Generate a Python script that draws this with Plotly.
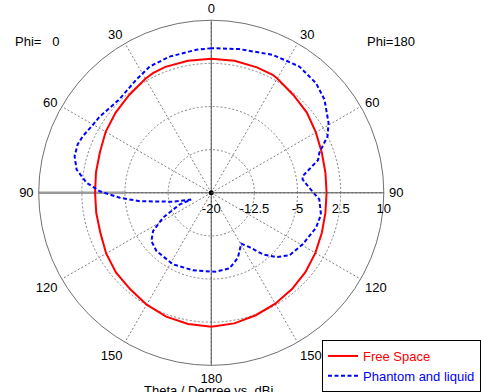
import plotly.graph_objects as go

# Far-field cut: Theta 0..180 on the Phi=0 half (left) and the Phi=180 half (right), gain in dBi
fs_theta_phi0 = [0, 10, 20, 26, 30, 40, 50, 60, 70, 80, 90, 100, 110, 120, 130, 140, 150, 160, 170, 180]
fs_gain_phi0 = [3.3, 3.3, 3.3, 3.15, 2.9, 2.2, 1.7, 1.2, 0.6, 0.35, 0.2, 0.3, 0.5, 1.1, 1.6, 1.9, 2.45, 2.9, 3.15, 3.3]
fs_theta_phi180 = [0, 10, 20, 27.5, 30, 40, 50, 60, 70, 80, 90, 100, 110, 120, 130, 140, 150, 160, 170, 180]
fs_gain_phi180 = [3.3, 3.32, 3.2, 3.13, 2.95, 2.2, 1.7, 1.0, 0.45, 0.15, 0.05, 0.15, 0.45, 0.9, 1.4, 1.85, 2.25, 2.65, 3.05, 3.3]

ph_theta_phi0 = [0, 6, 17, 26, 33.5, 44.5, 50, 55.6, 61, 66.2, 70, 75, 80.2, 85.4, 89.2, 93.1, 96.7,
                 103.2, 108.5, 110.3, 117.3, 123.3, 128.9, 136.7, 151.8, 166.7, 180]
ph_gain_phi0 = [5.14, 5.0, 4.76, 4.42, 3.6, 2.8, 3.0, 3.48, 3.8, 4.4, 4.7, 4.6, 3.76, 1.75, -0.63, -4.08, -7.48,
                -13.2, -16.3, -14.1, -10.55, -7.9, -6.63, -6.1, -5.9, -6.16, -6.3]
ph_theta_phi180 = [0, 11.1, 24, 34.9, 43.7, 50.5, 59.2, 64.1, 69.7, 73, 79.7, 81.7, 87.1, 93.5, 101.2, 108.4,
                   119.4, 128.7, 134.7, 140.1, 145, 149.5, 157.7, 166.3, 176.4, 180]
ph_gain_phi180 = [5.14, 5.46, 6.25, 6.77, 6.37, 5.5, 3.74, 2.47, 0.03, -0.6, -3.86, -3.95, -2.93, -1.18, -0.56, -0.8,
                  -1.76, -2.6, -4.13, -6.06, -8.5, -9.74, -7.8, -6.5, -6.27, -6.3]

r_ticks = [-20, -12.5, -5, 2.5, 10]
r_tick_text = ["-20", "-12.5", "-5", "2.5", "10"]
ang_ticks = list(range(0, 360, 30))
ang_tick_text = ["0", "30", "60", "90", "120", "150", "180", "150", "120", "90", "60", "30"]

R_MIN, R_MAX = -20, 10
FONT = "Liberation Sans, Arial, sans-serif"


def full_cut(theta0, gain0, theta180, gain180):
    # Phi=0 runs counterclockwise from the top; Phi=180 comes back on the other side
    ang = list(theta0) + [360 - t for t in reversed(theta180)]
    r = list(gain0) + list(reversed(gain180))
    return ang, r


fig = go.Figure()

# axis lines through the centre
fig.add_trace(go.Scatterpolar(r=[R_MAX, R_MIN, R_MAX], theta=[0, 0, 180], mode="lines",
                              line=dict(color="#555555", width=1), showlegend=False, hoverinfo="skip"))
fig.add_trace(go.Scatterpolar(r=[R_MIN, -5], theta=[90, 90], mode="lines",
                              line=dict(color="#555555", width=1), showlegend=False, hoverinfo="skip"))
fig.add_trace(go.Scatterpolar(r=[-5, R_MAX], theta=[90, 90], mode="lines",
                              line=dict(color="#9a9a9a", width=2.5), showlegend=False, hoverinfo="skip"))

ang, r = full_cut(fs_theta_phi0, fs_gain_phi0, fs_theta_phi180, fs_gain_phi180)
fig.add_trace(go.Scatterpolar(r=r, theta=ang, mode="lines",
                              name="<span style='color:#ff0000'>Free Space</span>",
                              line=dict(color="#ff0000", width=2)))

ang, r = full_cut(ph_theta_phi0, ph_gain_phi0, ph_theta_phi180, ph_gain_phi180)
fig.add_trace(go.Scatterpolar(r=r, theta=ang, mode="lines",
                              name="<span style='color:#0000ff'>Phantom and liquid</span>",
                              line=dict(color="#0000ff", width=2, dash="4px,2.5px")))

# centre marker
fig.add_trace(go.Scatterpolar(r=[R_MIN], theta=[0], mode="markers",
                              marker=dict(color="black", size=5), showlegend=False, hoverinfo="skip"))

W, H = 481, 392
cx, cy, rad = 211.7, 193.3, 173

fig.update_layout(
    width=W, height=H,
    margin=dict(l=0, r=0, t=0, b=0),
    paper_bgcolor="white",
    font=dict(family=FONT, size=13, color="black"),
    polar=dict(
        domain=dict(x=[(cx - rad) / W, (cx + rad) / W], y=[1 - (cy + rad) / H, 1 - (cy - rad) / H]),
        bgcolor="white",
        radialaxis=dict(range=[R_MIN, R_MAX], tickvals=r_ticks, ticktext=r_tick_text,
                        angle=0, side="clockwise", showline=True, linecolor="#555555", linewidth=1,
                        gridcolor="#808080", griddash="2px,2px", gridwidth=1,
                        ticks="outside", ticklen=4, tickcolor="rgba(0,0,0,0)",
                        tickfont=dict(family=FONT, size=13, color="black")),
        angularaxis=dict(rotation=90, direction="counterclockwise", tickmode="array",
                         tickvals=ang_ticks, ticktext=ang_tick_text,
                         showline=True, linecolor="#707070", linewidth=1,
                         gridcolor="#808080", griddash="2px,2px", gridwidth=1,
                         ticks="outside", ticklen=2, tickcolor="rgba(0,0,0,0)",
                         tickfont=dict(family=FONT, size=13, color="black")),
    ),
    legend=dict(x=322.7 / W, y=1 - 341 / H, xanchor="left", yanchor="top",
                bordercolor="black", borderwidth=1, bgcolor="white",
                font=dict(family=FONT, size=13), itemwidth=30, tracegroupgap=0),
    annotations=[
        dict(text="Phi=\u00a0\u00a0\u00a00", x=13 / W, y=1 - 41.7 / H, xref="paper", yref="paper",
             xanchor="left", yanchor="middle", showarrow=False),
        dict(text="Phi=180", x=365.7 / W, y=1 - 41.7 / H, xref="paper", yref="paper",
             xanchor="left", yanchor="middle", showarrow=False),
        dict(text="Theta / Degree vs. dBi", x=209 / W, y=1 - 382 / H, xref="paper", yref="paper",
             xanchor="center", yanchor="top", showarrow=False),
    ],
)

fig.write_html("out.html")
